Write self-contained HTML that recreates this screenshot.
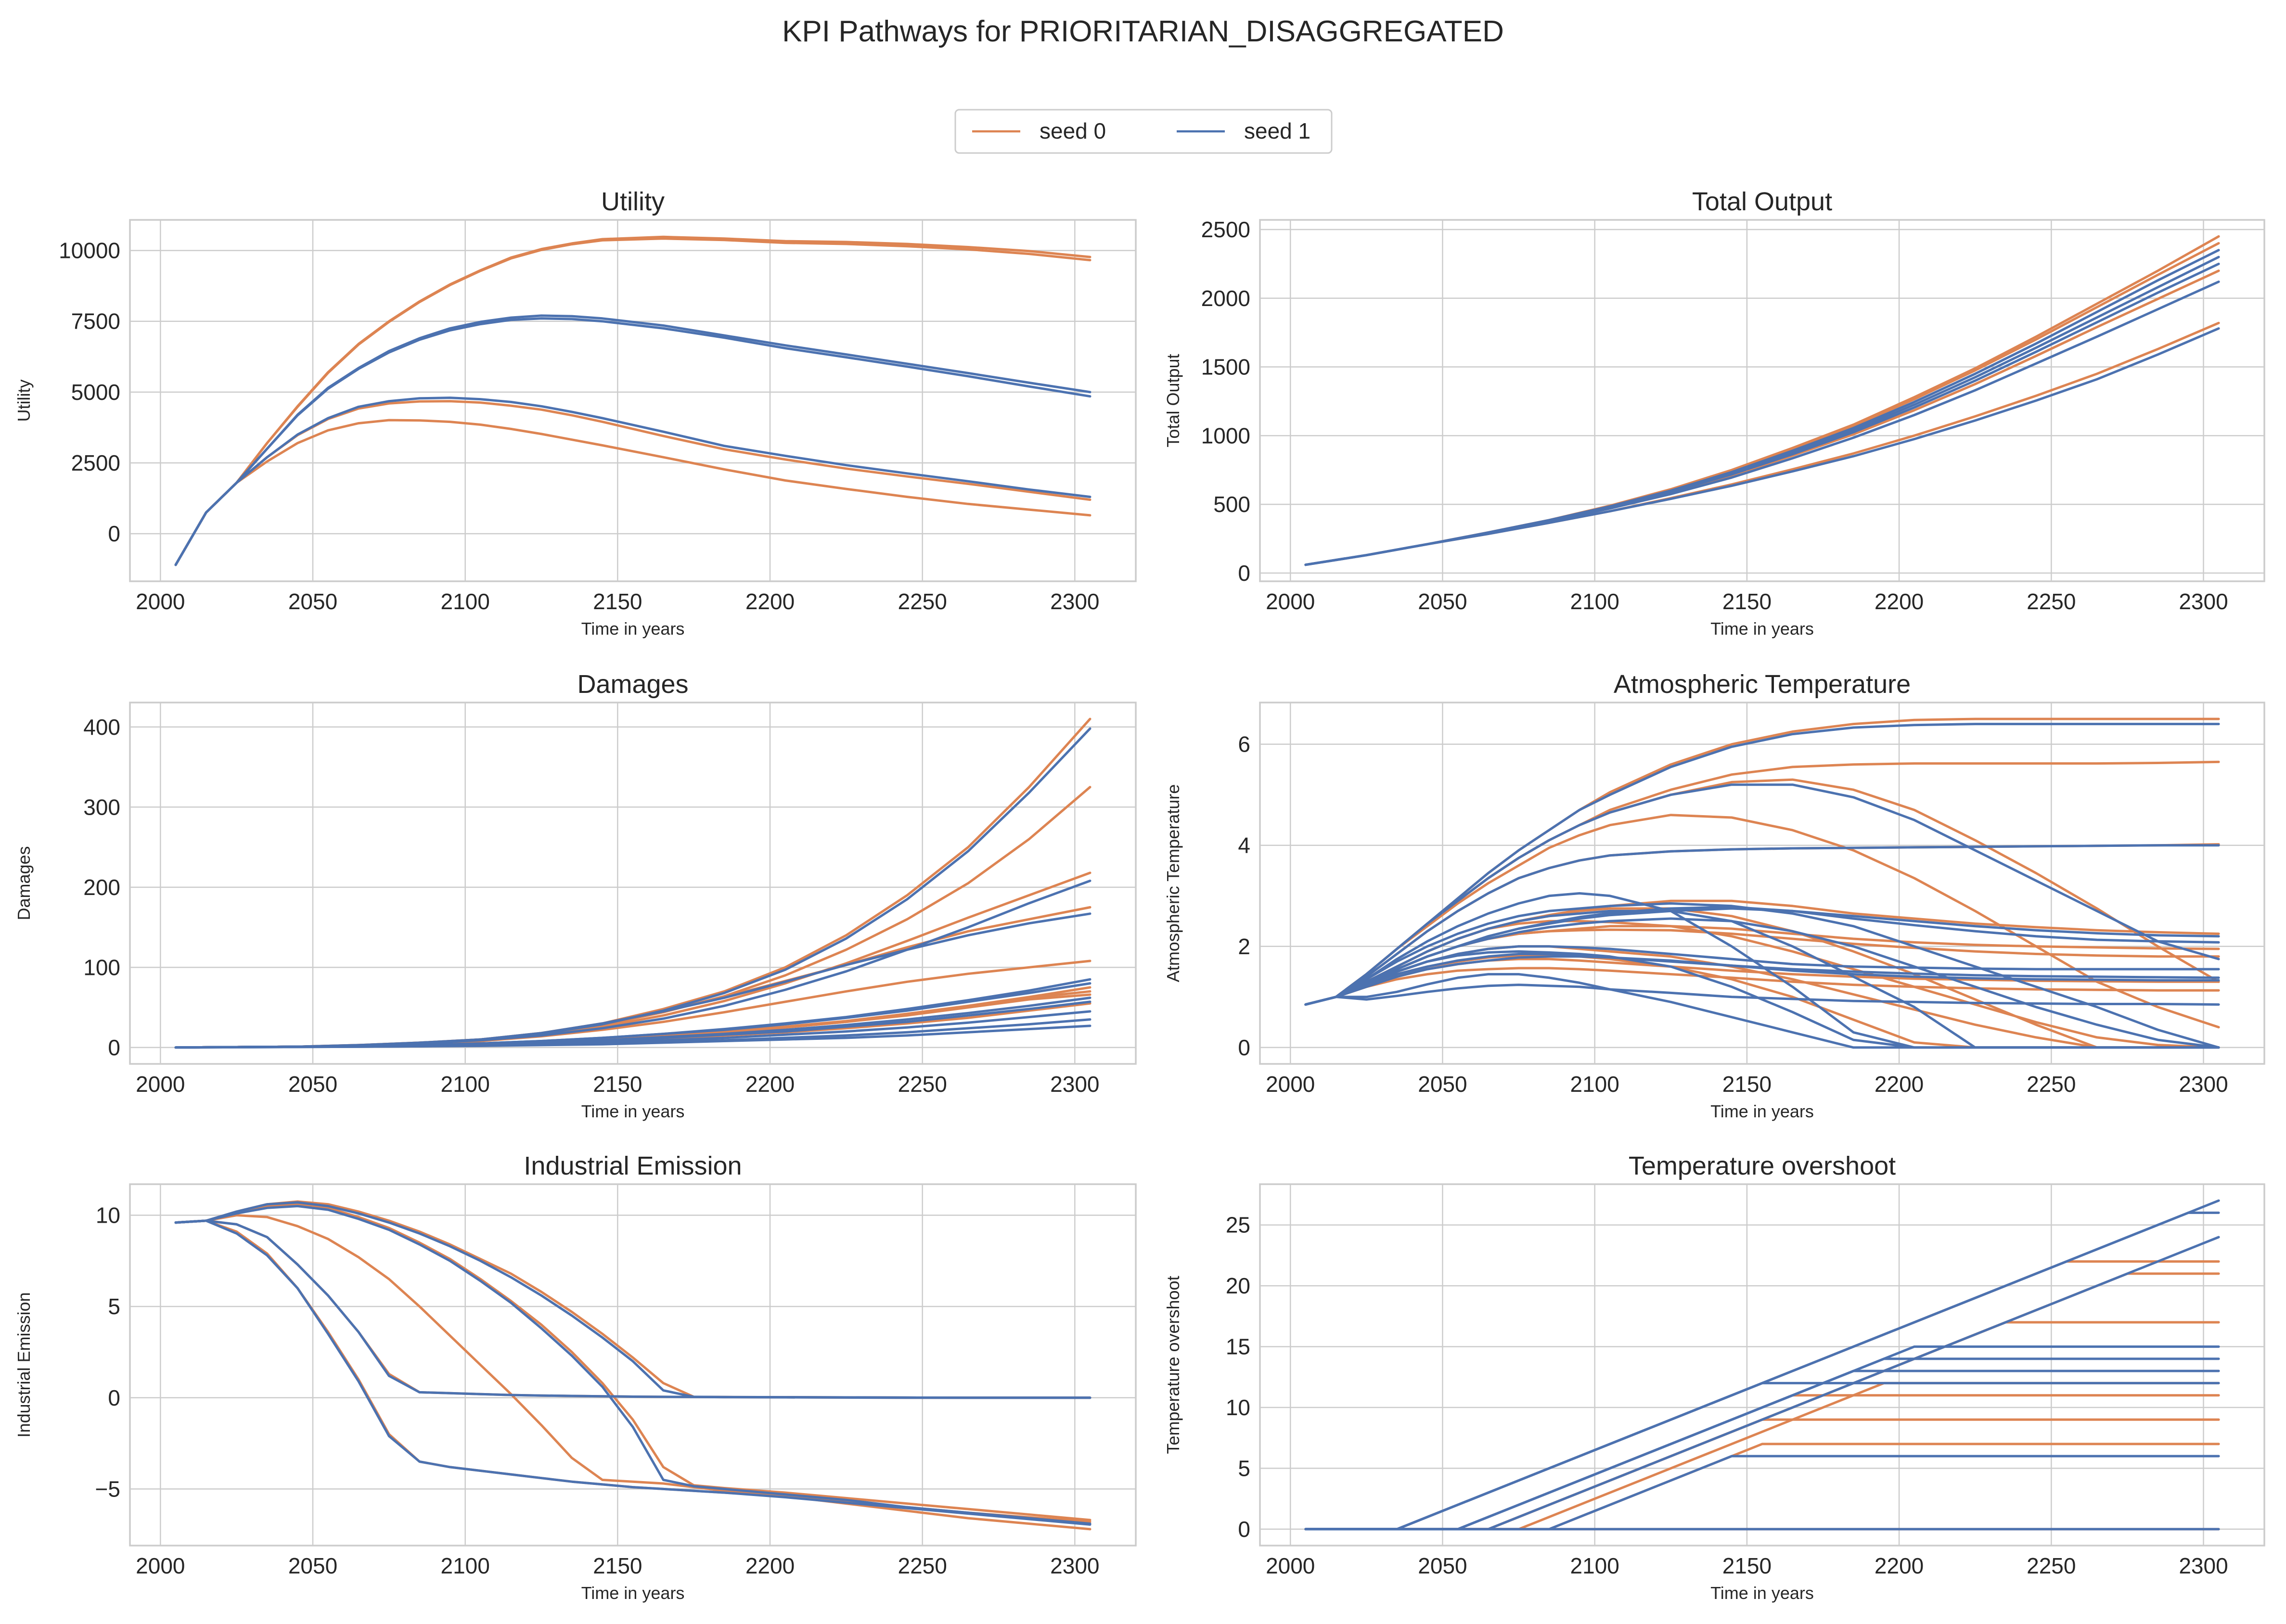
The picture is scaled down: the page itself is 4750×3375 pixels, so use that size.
<!DOCTYPE html>
<html>
<head>
<meta charset="utf-8">
<style>
  html,body{margin:0;padding:0;background:#ffffff;}
  svg{display:block;font-family:"Liberation Sans",Arial,sans-serif;}
</style>
</head>
<body>
<svg id="fig" xmlns="http://www.w3.org/2000/svg" width="4750" height="3375" viewBox="0 0 4750 3375">
  <rect x="0" y="0" width="4750" height="3375" fill="#ffffff"/>
  <text x="2375" y="86" text-anchor="middle" font-size="62" fill="#262626">KPI Pathways for PRIORITARIAN_DISAGGREGATED</text>
  <g>
    <rect x="1985" y="228" width="782" height="90" rx="8" fill="#ffffff" stroke="#cccccc" stroke-width="3"/>
    <g>
      <line x1="2020" y1="273" x2="2120" y2="273" stroke="#dd8452" stroke-width="4.5"/>
      <text x="2160" y="288" font-size="46" fill="#262626">seed 0</text>
    </g>
    <g>
      <line x1="2445" y1="273" x2="2545" y2="273" stroke="#4c72b0" stroke-width="4.5"/>
      <text x="2585" y="288" font-size="46" fill="#262626">seed 1</text>
    </g>
  </g>
</svg>
<script>
// ---------- DATA ----------
const utilYears = [2005,2015,2025,2035,2045,2055,2065,2075,2085,2095,2105,2115,2125,2135,2145,2165,2185,2205,2225,2245,2265,2285,2305];
const utilSeed0A = [-1100,750,1800,3200,4500,5700,6700,7500,8200,8800,9300,9750,10050,10250,10400,10480,10420,10330,10300,10230,10120,9980,9770];
const utilSeed0B = [-1100,750,1800,3200,4480,5680,6680,7480,8180,8780,9280,9720,10020,10220,10360,10420,10370,10270,10230,10150,10040,9880,9660];
const utilSeed1A = [-1100,750,1800,3000,4200,5150,5850,6450,6900,7250,7480,7630,7700,7680,7600,7350,7000,6650,6330,6000,5670,5330,5000];
const utilSeed1B = [-1100,750,1800,3000,4180,5120,5820,6400,6850,7180,7400,7550,7600,7580,7500,7250,6920,6550,6230,5900,5560,5200,4850];
const utilSeed1C = [-1100,750,1800,2700,3500,4080,4480,4680,4780,4800,4750,4650,4500,4300,4080,3600,3100,2750,2420,2130,1850,1560,1300];
const utilSeed0C = [-1100,750,1800,2700,3480,4050,4420,4600,4670,4680,4630,4520,4380,4180,3950,3450,2980,2620,2300,2020,1760,1480,1200];
const utilSeed0D = [-1100,750,1800,2550,3200,3650,3900,4010,4000,3950,3850,3700,3520,3320,3120,2700,2270,1880,1580,1300,1050,850,650];
const utilSeries = [
  {seed:0,v:utilSeed0A},{seed:0,v:utilSeed0B},{seed:0,v:utilSeed0C},{seed:0,v:utilSeed0D},
  {seed:1,v:utilSeed1A},{seed:1,v:utilSeed1B},{seed:1,v:utilSeed1C}
];
const utilTicks = [0,2500,5000,7500,10000];

const outYears = [2005,2025,2045,2065,2085,2105,2125,2145,2165,2185,2205,2225,2245,2265,2285,2305];
const outSeries = [
  {seed:0,v:[60,130,210,295,385,490,610,750,910,1080,1280,1490,1720,1960,2200,2450]},
  {seed:0,v:[60,130,210,295,385,488,605,745,900,1070,1265,1475,1700,1935,2170,2400]},
  {seed:0,v:[60,130,210,290,378,475,585,710,855,1010,1185,1375,1580,1790,1995,2200]},
  {seed:0,v:[60,130,210,285,365,450,545,645,755,870,1000,1140,1290,1450,1630,1820]},
  {seed:1,v:[60,130,210,295,385,485,600,735,890,1055,1245,1450,1670,1900,2130,2350]},
  {seed:1,v:[60,130,210,290,380,480,595,725,875,1040,1225,1425,1640,1860,2080,2300]},
  {seed:1,v:[60,130,210,290,380,478,590,718,865,1025,1205,1400,1610,1825,2040,2250]},
  {seed:1,v:[60,130,210,290,375,470,575,695,835,985,1150,1330,1525,1720,1920,2120]},
  {seed:1,v:[60,130,210,285,365,450,540,635,740,850,975,1110,1255,1410,1590,1780]}
];
const outTicks = [0,500,1000,1500,2000,2500];

const dmgYears = [2005,2025,2045,2065,2085,2105,2125,2145,2165,2185,2205,2225,2245,2265,2285,2305];
const dmgSeries = [
  {seed:0,v:[0,0.5,1,3,6,10,18,30,48,70,100,140,190,250,325,410]},
  {seed:0,v:[0,0.5,1,3,6,10,17,28,44,64,90,122,160,205,260,325]},
  {seed:0,v:[0,0.5,1,2.5,5,9,16,26,40,58,80,105,133,162,190,218]},
  {seed:0,v:[0,0.5,1,2.5,5,10,18,30,45,63,83,103,125,145,160,175]},
  {seed:0,v:[0,0.5,1,2,4,8,14,22,32,44,57,70,82,92,100,108]},
  {seed:0,v:[0,0.5,1,2,3,5,7,11,15,20,26,33,42,52,63,75]},
  {seed:0,v:[0,0.5,1,1.5,2.5,4,6,8,11,15,19,24,30,37,46,55]},
  {seed:0,v:[0,0.5,1,1.8,3,4.5,7,10,14,19,25,32,41,51,62,70]},
  {seed:0,v:[0,0.5,1,1.8,3,4.5,7,10,14,19,25,32,40,50,60,66]},
  {seed:1,v:[0,0.5,1,3,6,10,17,29,46,68,97,136,185,245,318,398]},
  {seed:1,v:[0,0.5,1,2.5,5,9,15,24,36,52,72,95,122,150,180,208]},
  {seed:1,v:[0,0.5,1,2.5,5,10,18,30,45,62,82,103,122,140,155,167]},
  {seed:1,v:[0,0.5,1,2,3,5,8,12,17,23,30,38,48,59,71,85]},
  {seed:1,v:[0,0.5,1,2,3,5,8,12,17,22,29,37,46,57,68,80]},
  {seed:1,v:[0,0.5,1,1.5,2.5,4,6,9,13,17,22,28,35,43,52,62]},
  {seed:1,v:[0,0.5,1,1.5,2.5,4,6,8,12,16,20,26,32,40,48,57]},
  {seed:1,v:[0,0.5,0.8,1.2,2,3,5,7,9,12,16,20,25,31,38,45]},
  {seed:1,v:[0,0.3,0.6,1,1.5,2.5,4,5,7,9,12,15,19,24,29,35]},
  {seed:1,v:[0,0.3,0.6,1,1.5,2,3,4,6,8,10,12,15,19,23,27]}
];
const dmgTicks = [0,100,200,300,400];

const tempYears = [2005,2015,2025,2035,2045,2055,2065,2075,2085,2095,2105,2125,2145,2165,2185,2205,2225,2245,2265,2285,2305];
const tempSeries = [
  {seed:0,v:[0.85,1,1.45,1.95,2.45,2.95,3.45,3.9,4.3,4.7,5.05,5.6,6.0,6.25,6.4,6.48,6.5,6.5,6.5,6.5,6.5]},
  {seed:0,v:[0.85,1,1.45,1.95,2.45,2.9,3.35,3.75,4.1,4.4,4.7,5.1,5.4,5.55,5.6,5.62,5.62,5.62,5.62,5.63,5.65]},
  {seed:0,v:[0.85,1,1.45,1.95,2.45,2.9,3.35,3.75,4.1,4.4,4.65,5.0,5.25,5.3,5.1,4.7,4.1,3.45,2.75,2.0,1.3]},
  {seed:0,v:[0.85,1,1.45,1.95,2.4,2.85,3.25,3.6,3.95,4.2,4.4,4.6,4.55,4.3,3.9,3.35,2.7,2.0,1.3,0.8,0.4]},
  {seed:0,v:[0.85,1,1.4,1.85,2.3,2.7,3.05,3.35,3.55,3.7,3.8,3.88,3.92,3.94,3.95,3.96,3.97,3.98,3.99,4.0,4.02]},
  {seed:0,v:[0.85,1,1.3,1.6,1.9,2.15,2.35,2.5,2.62,2.72,2.8,2.9,2.9,2.8,2.65,2.55,2.45,2.38,2.32,2.28,2.25]},
  {seed:0,v:[0.85,1,1.3,1.55,1.8,2.0,2.15,2.25,2.3,2.35,2.4,2.4,2.35,2.25,2.15,2.08,2.03,2.0,1.98,1.96,1.95]},
  {seed:0,v:[0.85,1,1.3,1.55,1.8,2.0,2.15,2.25,2.3,2.32,2.33,2.32,2.25,2.15,2.05,1.97,1.9,1.85,1.82,1.8,1.8]},
  {seed:0,v:[0.85,1,1.2,1.4,1.55,1.65,1.72,1.75,1.75,1.72,1.68,1.6,1.52,1.45,1.4,1.36,1.34,1.32,1.31,1.3,1.3]},
  {seed:0,v:[0.85,1,1.3,1.6,1.9,2.15,2.35,2.5,2.6,2.7,2.75,2.75,2.6,2.3,1.9,1.45,0.95,0.45,0,0,0]},
  {seed:0,v:[0.85,1,1.25,1.5,1.7,1.85,1.95,2.0,2.0,1.95,1.9,1.8,1.6,1.35,1.05,0.75,0.45,0.2,0,0,0]},
  {seed:0,v:[0.85,1,1.3,1.6,1.9,2.15,2.35,2.45,2.5,2.5,2.48,2.4,2.2,1.9,1.55,1.2,0.85,0.5,0.2,0.05,0]},
  {seed:0,v:[0.85,1,1.25,1.45,1.6,1.7,1.78,1.82,1.82,1.8,1.75,1.6,1.35,1.0,0.55,0.1,0,0,0,0,0]},
  {seed:0,v:[0.85,1,1.2,1.35,1.45,1.52,1.55,1.57,1.57,1.55,1.52,1.45,1.38,1.3,1.24,1.2,1.17,1.15,1.14,1.13,1.13]},
  {seed:1,v:[0.85,1,1.45,1.95,2.45,2.95,3.45,3.9,4.3,4.7,5.0,5.55,5.95,6.2,6.33,6.38,6.4,6.4,6.4,6.4,6.4]},
  {seed:1,v:[0.85,1,1.45,1.95,2.45,2.9,3.35,3.75,4.1,4.4,4.65,5.0,5.2,5.2,4.95,4.5,3.9,3.3,2.7,2.1,1.75]},
  {seed:1,v:[0.85,1,1.4,1.85,2.3,2.7,3.05,3.35,3.55,3.7,3.8,3.88,3.92,3.94,3.95,3.96,3.97,3.98,3.99,4.0,4.0]},
  {seed:1,v:[0.85,1,1.35,1.75,2.1,2.4,2.65,2.85,3.0,3.05,3.0,2.7,2.0,1.2,0.3,0,0,0,0,0,0]},
  {seed:1,v:[0.85,1,1.3,1.55,1.8,2.0,2.2,2.35,2.45,2.55,2.62,2.7,2.75,2.7,2.6,2.5,2.4,2.32,2.26,2.22,2.2]},
  {seed:1,v:[0.85,1,1.3,1.55,1.8,2.0,2.2,2.35,2.47,2.58,2.66,2.75,2.78,2.7,2.55,2.42,2.3,2.2,2.13,2.1,2.08]},
  {seed:1,v:[0.85,1,1.35,1.7,2.0,2.25,2.45,2.6,2.7,2.75,2.8,2.85,2.8,2.65,2.4,2.0,1.6,1.2,0.8,0.35,0]},
  {seed:1,v:[0.85,1,1.3,1.6,1.9,2.15,2.35,2.5,2.6,2.65,2.7,2.7,2.5,2.0,1.4,0.8,0,0,0,0,0]},
  {seed:1,v:[0.85,1,1.3,1.55,1.8,2.0,2.15,2.28,2.38,2.45,2.5,2.55,2.5,2.3,2.0,1.6,1.2,0.8,0.45,0.15,0]},
  {seed:1,v:[0.85,1,1.25,1.45,1.6,1.72,1.8,1.85,1.85,1.82,1.78,1.7,1.62,1.55,1.5,1.46,1.43,1.41,1.4,1.39,1.38]},
  {seed:1,v:[0.85,1,1.3,1.5,1.7,1.85,1.95,2.0,2.0,1.98,1.95,1.85,1.75,1.65,1.6,1.58,1.56,1.55,1.55,1.55,1.55]},
  {seed:1,v:[0.85,1,1.25,1.5,1.7,1.82,1.88,1.9,1.88,1.85,1.8,1.6,1.2,0.7,0.15,0,0,0,0,0,0]},
  {seed:1,v:[0.85,1,1.2,1.4,1.55,1.65,1.72,1.78,1.8,1.8,1.78,1.72,1.62,1.52,1.45,1.4,1.37,1.35,1.34,1.33,1.33]},
  {seed:1,v:[0.85,1,0.95,1.02,1.1,1.17,1.22,1.24,1.22,1.2,1.15,1.08,1.0,0.96,0.92,0.9,0.88,0.87,0.86,0.86,0.85]},
  {seed:1,v:[0.85,1,1.0,1.1,1.25,1.38,1.45,1.45,1.38,1.28,1.15,0.9,0.6,0.3,0,0,0,0,0,0,0]}
];
const tempTicks = [0,2,4,6];

const emiYears = [2005,2015,2025,2035,2045,2055,2065,2075,2085,2095,2105,2115,2125,2135,2145,2155,2165,2175,2185,2205,2225,2245,2265,2285,2305];
const emiSeries = [
  {seed:0,v:[9.6,9.7,10.2,10.6,10.75,10.6,10.2,9.7,9.1,8.4,7.6,6.8,5.8,4.7,3.5,2.2,0.8,0.05,0.04,0.03,0.02,0.01,0,0,0]},
  {seed:0,v:[9.6,9.7,10.1,10.5,10.6,10.4,9.9,9.3,8.5,7.6,6.5,5.3,4.0,2.5,0.8,-1.2,-3.8,-4.8,-4.95,-5.2,-5.5,-5.8,-6.1,-6.4,-6.7]},
  {seed:0,v:[9.6,9.7,10.0,9.9,9.4,8.7,7.7,6.5,5.0,3.4,1.8,0.2,-1.5,-3.3,-4.5,-4.6,-4.7,-4.9,-5.1,-5.4,-5.8,-6.2,-6.6,-6.9,-7.2]},
  {seed:0,v:[9.6,9.7,9.1,7.9,6.0,3.6,1.0,-2.0,-3.5,-3.8,-4.0,-4.2,-4.4,-4.6,-4.75,-4.9,-5.0,-5.1,-5.2,-5.4,-5.7,-6.0,-6.3,-6.55,-6.8]},
  {seed:0,v:[9.6,9.7,9.5,8.8,7.3,5.6,3.6,1.3,0.3,0.25,0.2,0.15,0.12,0.1,0.08,0.06,0.05,0.04,0.03,0.02,0.01,0,0,0,0]},
  {seed:1,v:[9.6,9.7,10.2,10.6,10.7,10.5,10.1,9.6,9.0,8.3,7.5,6.6,5.6,4.5,3.3,2.0,0.4,0.05,0.04,0.03,0.02,0.01,0,0,0]},
  {seed:1,v:[9.6,9.7,10.1,10.4,10.5,10.3,9.8,9.2,8.4,7.5,6.4,5.2,3.8,2.3,0.6,-1.6,-4.5,-4.85,-5.0,-5.3,-5.6,-6.0,-6.3,-6.6,-6.9]},
  {seed:1,v:[9.6,9.7,9.0,7.8,6.0,3.5,0.9,-2.1,-3.5,-3.8,-4.0,-4.2,-4.4,-4.6,-4.75,-4.9,-5.0,-5.1,-5.2,-5.45,-5.75,-6.05,-6.35,-6.65,-6.95]},
  {seed:1,v:[9.6,9.7,9.5,8.8,7.3,5.6,3.6,1.2,0.3,0.25,0.2,0.15,0.12,0.1,0.08,0.06,0.05,0.04,0.03,0.02,0.01,0,0,0,0]}
];
const emiTicks = [-5,0,5,10];

const ovsSeries = [
  {seed:0,x:[2005,2035,2255,2305],y:[0,0,22,22]},
  {seed:0,x:[2005,2065,2275,2305],y:[0,0,21,21]},
  {seed:0,x:[2005,2065,2235,2305],y:[0,0,17,17]},
  {seed:0,x:[2005,2055,2165,2305],y:[0,0,11,11]},
  {seed:0,x:[2005,2065,2155,2305],y:[0,0,9,9]},
  {seed:0,x:[2005,2075,2195,2305],y:[0,0,12,12]},
  {seed:0,x:[2005,2085,2155,2305],y:[0,0,7,7]},
  {seed:0,x:[2005,2305],y:[0,0]},
  {seed:1,x:[2005,2035,2305],y:[0,0,27]},
  {seed:1,x:[2005,2035,2295,2305],y:[0,0,26,26]},
  {seed:1,x:[2005,2065,2305],y:[0,0,24]},
  {seed:1,x:[2005,2055,2205,2305],y:[0,0,15,15]},
  {seed:1,x:[2005,2055,2195,2305],y:[0,0,14,14]},
  {seed:1,x:[2005,2055,2185,2305],y:[0,0,13,13]},
  {seed:1,x:[2005,2035,2155,2305],y:[0,0,12,12]},
  {seed:1,x:[2005,2085,2145,2305],y:[0,0,6,6]},
  {seed:1,x:[2005,2305],y:[0,0]}
];
const ovsTicks = [0,5,10,15,20,25];

const xTicks = [2000,2050,2100,2150,2200,2250,2300];

// ---------- RENDER ----------
const NS = 'http://www.w3.org/2000/svg';
const svg = document.getElementById('fig');
const COL = {0:'#dd8452', 1:'#4c72b0'};

function mk(tag, attrs, parent){
  const e = document.createElementNS(NS, tag);
  for (const k in attrs) e.setAttribute(k, attrs[k]);
  parent.appendChild(e);
  return e;
}

function toSeries(years, list){
  return list.map(s => ({seed:s.seed, x:years, y:s.v}));
}

const panels = [
  {key:'utility', title:'Utility', ylabel:'Utility', box:[270,2360,457,1208], ylim:[-1680,11080], ticks:utilTicks, series:toSeries(utilYears, utilSeries)},
  {key:'total-output', title:'Total Output', ylabel:'Total Output', box:[2618,4705,457,1208], ylim:[-60,2570], ticks:outTicks, series:toSeries(outYears, outSeries)},
  {key:'damages', title:'Damages', ylabel:'Damages', box:[270,2360,1460,2211], ylim:[-20.5,430.5], ticks:dmgTicks, series:toSeries(dmgYears, dmgSeries)},
  {key:'atmospheric-temperature', title:'Atmospheric Temperature', ylabel:'Atmospheric Temperature', box:[2618,4705,1460,2211], ylim:[-0.325,6.825], ticks:tempTicks, series:toSeries(tempYears, tempSeries)},
  {key:'industrial-emission', title:'Industrial Emission', ylabel:'Industrial Emission', box:[270,2360,2461,3212], ylim:[-8.1,11.7], ticks:emiTicks, series:toSeries(emiYears, emiSeries)},
  {key:'temperature-overshoot', title:'Temperature overshoot', ylabel:'Temperature overshoot', box:[2618,4705,2461,3212], ylim:[-1.35,28.35], ticks:ovsTicks, series:ovsSeries}
];

panels.forEach((p, pi) => {
  const [x0,x1,y0,y1] = p.box;
  const sx = v => x0 + (v - 1990) / (2320 - 1990) * (x1 - x0);
  const sy = v => y1 - (v - p.ylim[0]) / (p.ylim[1] - p.ylim[0]) * (y1 - y0);
  const g = mk('g', {}, svg);
  
  

  const clipId = 'clip' + pi;
  const cp = mk('clipPath', {id:clipId}, g);
  mk('rect', {x:x0, y:y0, width:x1-x0, height:y1-y0}, cp);

  const grid = mk('g', {}, g);
  
  
  xTicks.forEach(t => {
    mk('line', {x1:sx(t), x2:sx(t), y1:y0, y2:y1, stroke:'#cccccc', 'stroke-width':2.5}, grid);
  });
  p.ticks.forEach(t => {
    mk('line', {x1:x0, x2:x1, y1:sy(t), y2:sy(t), stroke:'#cccccc', 'stroke-width':2.5}, grid);
  });

  const lines = mk('g', {'clip-path':'url(#' + clipId + ')'}, g);
  [0,1].forEach(seed => {
    p.series.filter(s => s.seed === seed).forEach((s, si) => {
      const d = s.x.map((xv, i) => (i ? 'L' : 'M') + sx(xv).toFixed(1) + ' ' + sy(s.y[i]).toFixed(1)).join(' ');
      const path = mk('path', {d:d, fill:'none', stroke:COL[seed], 'stroke-width':5, 'stroke-linejoin':'round', 'stroke-linecap':'round'}, lines);
      
      
    });
  });

  const frame = mk('rect', {x:x0, y:y0, width:x1-x0, height:y1-y0, fill:'none', stroke:'#cccccc', 'stroke-width':3.5}, g);
  
  

  xTicks.forEach(t => {
    const tx = mk('text', {x:sx(t), y:y1+58, 'text-anchor':'middle', 'font-size':46, fill:'#262626'}, g);
    tx.textContent = t;
    
    
  });
  p.ticks.forEach(t => {
    const ty = mk('text', {x:x0-20, y:sy(t)+16, 'text-anchor':'end', 'font-size':46, fill:'#262626'}, g);
    ty.textContent = String(t).replace('-', '\u2212');
    
    
  });

  const tt = mk('text', {x:(x0+x1)/2, y:y0-20, 'text-anchor':'middle', 'font-size':54, fill:'#262626'}, g);
  tt.textContent = p.title;
  
  

  const xl = mk('text', {x:(x0+x1)/2, y:y1+111, 'text-anchor':'middle', 'font-size':36, fill:'#262626'}, g);
  xl.textContent = 'Time in years';
  
  

  const lx = pi % 2 === 0 ? 62 : 2450;
  const ly = (y0 + y1) / 2;
  const yl = mk('text', {x:lx, y:ly, 'text-anchor':'middle', 'font-size':36, fill:'#262626', transform:'rotate(-90 ' + lx + ' ' + ly + ')'}, g);
  yl.textContent = p.ylabel;
  
  
});
</script>
</body>
</html>
